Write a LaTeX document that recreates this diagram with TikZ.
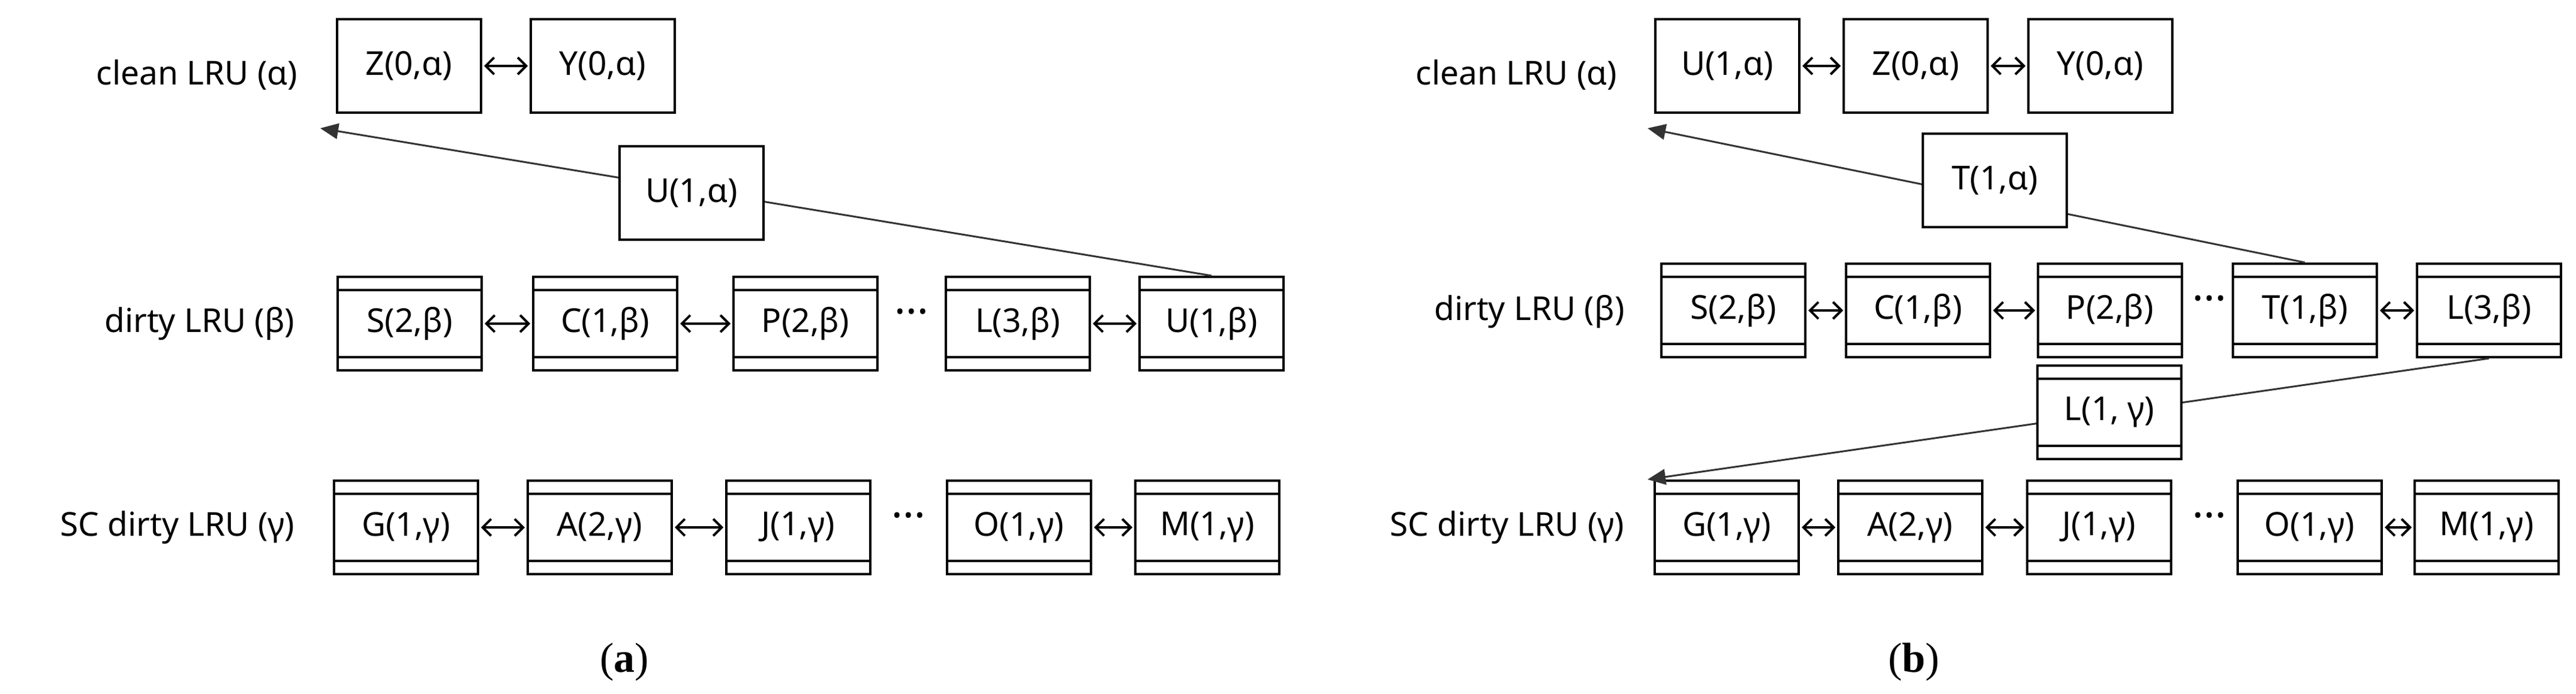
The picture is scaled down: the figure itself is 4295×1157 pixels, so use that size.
\documentclass[tikz,border=0pt]{standalone}
\usepackage{fontspec}
\setmainfont{Noto Sans}
\newfontfamily\capfont{Liberation Serif}
\usetikzlibrary{arrows.meta}
\begin{document}
\begin{tikzpicture}[x=1pt,y=-1pt,
  font=\fontsize{55}{60}\selectfont,
  bx/.style={draw,line width=4pt,fill=white,minimum width=240pt,minimum height=156pt,inner sep=0pt},
  db/.style={bx,path picture={
    \draw[line width=4pt] ([yshift=-22pt]path picture bounding box.north west) -- ([yshift=-22pt]path picture bounding box.north east);
    \draw[line width=4pt] ([yshift=22pt]path picture bounding box.south west) -- ([yshift=22pt]path picture bounding box.south east);}},
  lk/.style={{Straight Barb[length=14pt,width=28pt,line width=4pt]}-{Straight Barb[length=14pt,width=28pt,line width=4pt]},line width=4pt,shorten <=3pt,shorten >=3pt},
  mv/.style={-{Triangle[length=30pt,width=26pt]},line width=3pt,draw=black!80},
  lab/.style={anchor=east},
  dts/.style={font=\fontsize{70}{70}\selectfont\bfseries},
  captxt/.style={font=\capfont\fontsize{70}{76}\selectfont}]
\useasboundingbox (0,0) rectangle (4295,1157);
% ---------- panel (a)
\node[lab] (la1) at (500,125) {clean LRU (α)};
\node[lab] (la2) at (495,540) {dirty LRU (β)};
\node[lab] (la3) at (495,880) {SC dirty LRU (γ)};
\node[bx] (aZ) at (682,110) {Z(0,α)};
\node[bx] (aY) at (1005,110) {Y(0,α)};
\draw[lk] (aZ) -- (aY);
\node[db] (aS) at (683,540) {S(2,β)};
\node[db] (aC) at (1009,540) {C(1,β)};
\node[db] (aP) at (1343,540) {P(2,β)};
\node[dts] (ad1) at (1520,530) {···};
\node[db] (aL) at (1697,540) {L(3,β)};
\node[db] (aU) at (2020,540) {U(1,β)};
\draw[lk] (aS) -- (aC); \draw[lk] (aC) -- (aP); \draw[lk] (aL) -- (aU);
\node[db] (aG) at (677,880) {G(1,γ)};
\node[db] (aA) at (1000,880) {A(2,γ)};
\node[db] (aJ) at (1331,880) {J(1,γ)};
\node[dts] (ad2) at (1515,870) {···};
\node[db] (aO) at (1699,880) {O(1,γ)};
\node[db] (aM) at (2013,880) {M(1,γ)};
\draw[lk] (aG) -- (aA); \draw[lk] (aA) -- (aJ); \draw[lk] (aO) -- (aM);
\coordinate (at) at (534,214);
\draw[mv] (aU.north) -- (at);
\node[bx] (aUa) at (1153,322) {U(1,α)};
\node[captxt] (ca) at (1041,1105) {(\textbf{a})};
% ---------- panel (b)
\node[lab] (lb1) at (2700,125) {clean LRU (α)};
\node[lab] (lb2) at (2712,520) {dirty LRU (β)};
\node[lab] (lb3) at (2712,880) {SC dirty LRU (γ)};
\node[bx] (bU) at (2880,110) {U(1,α)};
\node[bx] (bZ) at (3194,110) {Z(0,α)};
\node[bx] (bY) at (3502,110) {Y(0,α)};
\draw[lk] (bU) -- (bZ); \draw[lk] (bZ) -- (bY);
\node[db] (bS) at (2890,518) {S(2,β)};
\node[db] (bC) at (3198,518) {C(1,β)};
\node[db] (bP) at (3518,518) {P(2,β)};
\node[dts] (bd1) at (3684,508) {···};
\node[db] (bT) at (3843,518) {T(1,β)};
\node[db] (bL) at (4150,518) {L(3,β)};
\draw[lk] (bS) -- (bC); \draw[lk] (bC) -- (bP); \draw[lk] (bT) -- (bL);
\node[db] (bG) at (2879,880) {G(1,γ)};
\node[db] (bA) at (3185,880) {A(2,γ)};
\node[db] (bJ) at (3500,880) {J(1,γ)};
\node[dts] (bd2) at (3684,870) {···};
\node[db] (bO) at (3851,880) {O(1,γ)};
\node[db] (bM) at (4146,880) {M(1,γ)};
\draw[lk] (bG) -- (bA); \draw[lk] (bA) -- (bJ); \draw[lk] (bO) -- (bM);
\coordinate (bt1) at (2747,214);
\coordinate (bt2) at (2747,800);
\draw[mv] (bT.north) -- (bt1);
\draw[mv] (bL.south) -- (bt2);
\node[bx] (bTa) at (3326,301) {T(1,α)};
\node[db] (bLg) at (3517,688) {L(1, γ)};
\node[captxt] (cb) at (3191,1105) {(\textbf{b})};
\end{tikzpicture}
\end{document}
